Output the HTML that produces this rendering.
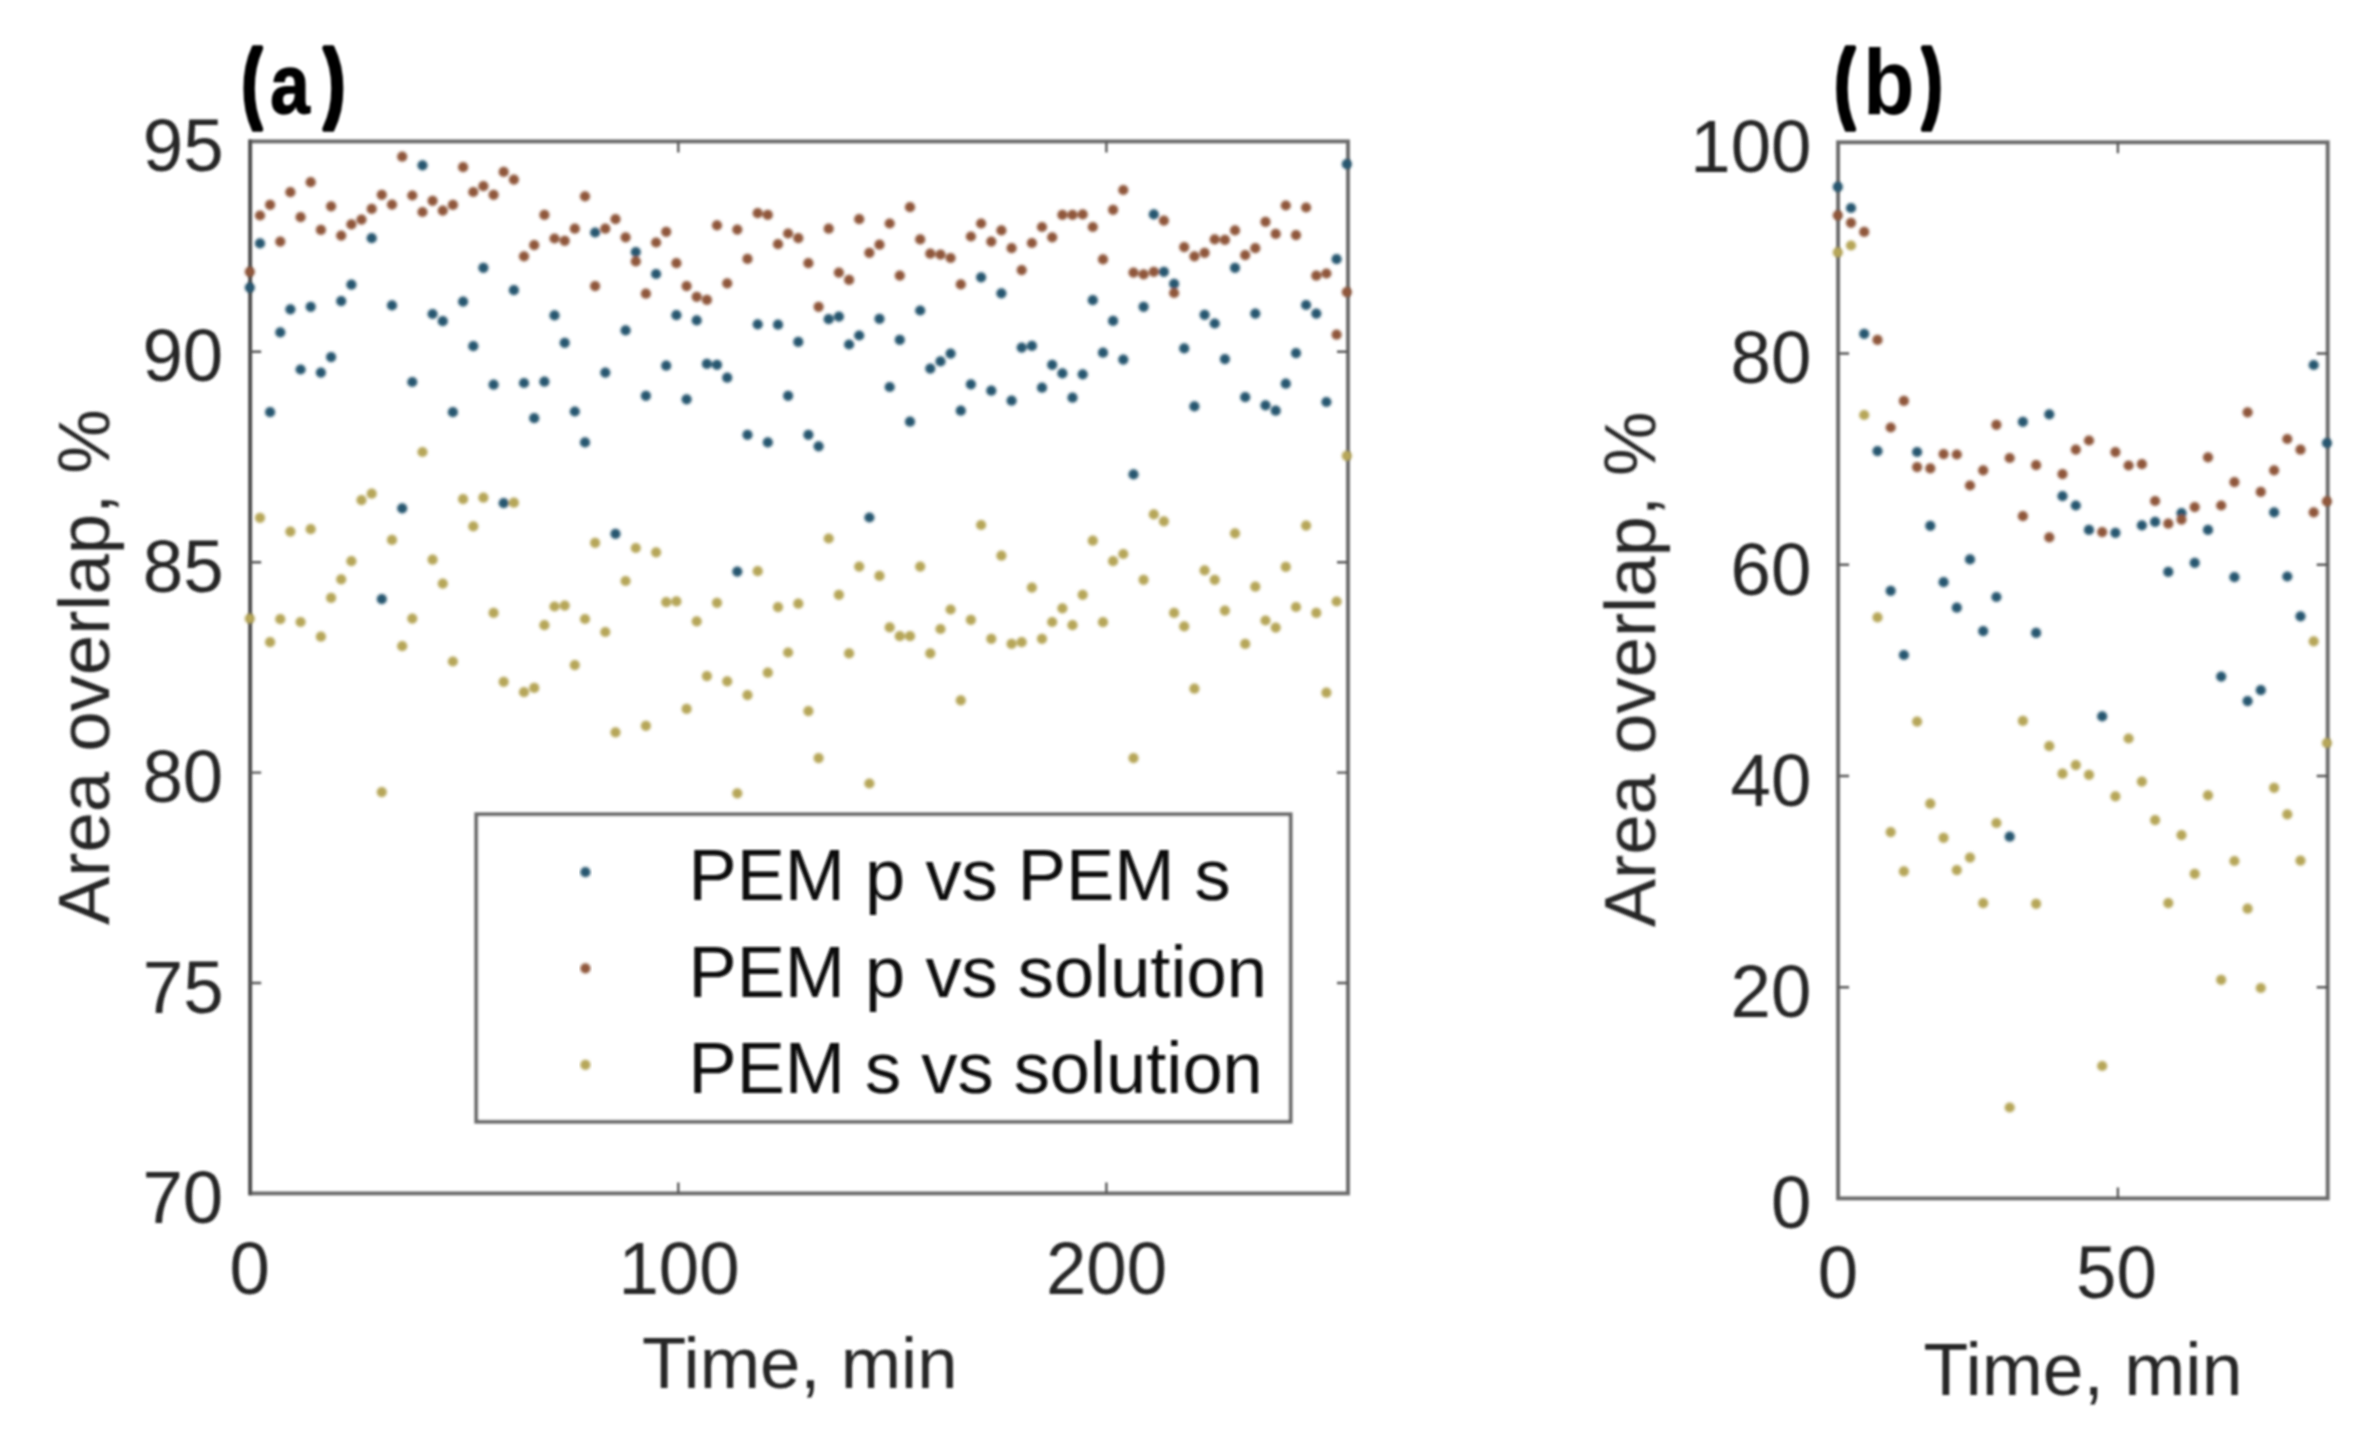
<!DOCTYPE html>
<html><head><meta charset="utf-8"><title>Area overlap</title>
<style>html,body{margin:0;padding:0;background:#fff}svg{display:block}text{font-family:"Liberation Sans",sans-serif}</style></head><body>
<svg width="2362" height="1451" viewBox="0 0 2362 1451">
<defs><filter id="bl" x="-5%" y="-5%" width="110%" height="110%"><feGaussianBlur stdDeviation="0.9"/></filter><filter id="bd" x="-5%" y="-5%" width="110%" height="110%"><feGaussianBlur stdDeviation="1.5"/></filter></defs>
<rect width="2362" height="1451" fill="#fff"/>
<g filter="url(#bl)">
<rect x="250.2" y="141.4" width="1097.8" height="1052.0" fill="none" stroke="#6c6c6c" stroke-width="3.9"/>
<path d="M250.2 139.45000000000002V1195.3500000000001" stroke="#4c4c4c" stroke-width="3.4" fill="none"/>
<path d="M678.3 1193.4v-11M678.3 141.4v11M1106.4 1193.4v-11M1106.4 141.4v11M250.2 983.0h11M1348.0 983.0h-11M250.2 772.6h11M1348.0 772.6h-11M250.2 562.2h11M1348.0 562.2h-11M250.2 351.8h11M1348.0 351.8h-11" stroke="#585858" stroke-width="2.4" fill="none"/>
<rect x="1838.1" y="142.3" width="489.6" height="1056.1" fill="none" stroke="#6c6c6c" stroke-width="3.9"/>
<path d="M2117.9 1198.4v-11M2117.9 142.3v11M1838.1 987.2h11M2327.7 987.2h-11M1838.1 776.0h11M2327.7 776.0h-11M1838.1 564.7h11M2327.7 564.7h-11M1838.1 353.5h11M2327.7 353.5h-11" stroke="#585858" stroke-width="2.4" fill="none"/>
</g>
<g filter="url(#bd)">
<g fill="#26566f">
<circle cx="249.8" cy="287.6" r="5.1"/><circle cx="260.0" cy="243.4" r="5.1"/><circle cx="270.1" cy="412.2" r="5.1"/><circle cx="280.3" cy="332.4" r="5.1"/><circle cx="290.4" cy="309.3" r="5.1"/><circle cx="300.6" cy="369.5" r="5.1"/><circle cx="310.7" cy="306.8" r="5.1"/><circle cx="320.9" cy="372.6" r="5.1"/><circle cx="331.1" cy="357.1" r="5.1"/><circle cx="341.2" cy="301.1" r="5.1"/><circle cx="351.4" cy="284.7" r="5.1"/><circle cx="371.7" cy="238.2" r="5.1"/><circle cx="381.8" cy="599.1" r="5.1"/><circle cx="392.0" cy="305.4" r="5.1"/><circle cx="402.2" cy="508.3" r="5.1"/><circle cx="412.3" cy="382.0" r="5.1"/><circle cx="422.5" cy="165.3" r="5.1"/><circle cx="432.6" cy="314.0" r="5.1"/><circle cx="442.8" cy="321.2" r="5.1"/><circle cx="452.9" cy="412.2" r="5.1"/><circle cx="463.1" cy="301.6" r="5.1"/><circle cx="473.3" cy="346.2" r="5.1"/><circle cx="483.4" cy="267.8" r="5.1"/><circle cx="493.6" cy="384.7" r="5.1"/><circle cx="503.7" cy="503.2" r="5.1"/><circle cx="513.9" cy="290.2" r="5.1"/><circle cx="524.0" cy="383.0" r="5.1"/><circle cx="534.2" cy="418.2" r="5.1"/><circle cx="544.4" cy="381.7" r="5.1"/><circle cx="554.5" cy="315.4" r="5.1"/><circle cx="564.7" cy="342.8" r="5.1"/><circle cx="574.8" cy="411.5" r="5.1"/><circle cx="585.0" cy="442.4" r="5.1"/><circle cx="595.1" cy="232.5" r="5.1"/><circle cx="605.3" cy="372.6" r="5.1"/><circle cx="615.5" cy="533.8" r="5.1"/><circle cx="625.6" cy="330.4" r="5.1"/><circle cx="635.8" cy="252.0" r="5.1"/><circle cx="645.9" cy="395.8" r="5.1"/><circle cx="656.1" cy="274.0" r="5.1"/><circle cx="666.2" cy="365.7" r="5.1"/><circle cx="676.4" cy="315.2" r="5.1"/><circle cx="686.6" cy="399.3" r="5.1"/><circle cx="696.7" cy="320.4" r="5.1"/><circle cx="706.9" cy="363.9" r="5.1"/><circle cx="717.0" cy="364.8" r="5.1"/><circle cx="727.2" cy="377.7" r="5.1"/><circle cx="737.3" cy="571.6" r="5.1"/><circle cx="747.5" cy="434.8" r="5.1"/><circle cx="757.7" cy="324.3" r="5.1"/><circle cx="767.8" cy="442.4" r="5.1"/><circle cx="778.0" cy="324.7" r="5.1"/><circle cx="788.1" cy="395.8" r="5.1"/><circle cx="798.3" cy="341.9" r="5.1"/><circle cx="808.4" cy="434.8" r="5.1"/><circle cx="818.6" cy="446.3" r="5.1"/><circle cx="828.7" cy="319.2" r="5.1"/><circle cx="838.9" cy="316.6" r="5.1"/><circle cx="849.1" cy="344.5" r="5.1"/><circle cx="859.2" cy="335.5" r="5.1"/><circle cx="869.4" cy="517.5" r="5.1"/><circle cx="879.5" cy="318.8" r="5.1"/><circle cx="889.7" cy="387.0" r="5.1"/><circle cx="899.8" cy="339.8" r="5.1"/><circle cx="910.0" cy="421.7" r="5.1"/><circle cx="920.2" cy="310.5" r="5.1"/><circle cx="930.3" cy="368.6" r="5.1"/><circle cx="940.5" cy="361.4" r="5.1"/><circle cx="950.6" cy="353.6" r="5.1"/><circle cx="960.8" cy="410.7" r="5.1"/><circle cx="970.9" cy="384.3" r="5.1"/><circle cx="981.1" cy="277.3" r="5.1"/><circle cx="991.3" cy="390.7" r="5.1"/><circle cx="1001.4" cy="293.3" r="5.1"/><circle cx="1011.6" cy="400.7" r="5.1"/><circle cx="1021.7" cy="347.6" r="5.1"/><circle cx="1031.9" cy="345.9" r="5.1"/><circle cx="1042.0" cy="387.7" r="5.1"/><circle cx="1052.2" cy="364.8" r="5.1"/><circle cx="1062.4" cy="373.4" r="5.1"/><circle cx="1072.5" cy="397.7" r="5.1"/><circle cx="1082.7" cy="374.3" r="5.1"/><circle cx="1092.8" cy="300.2" r="5.1"/><circle cx="1103.0" cy="352.7" r="5.1"/><circle cx="1113.1" cy="320.9" r="5.1"/><circle cx="1123.3" cy="359.6" r="5.1"/><circle cx="1133.5" cy="474.4" r="5.1"/><circle cx="1143.6" cy="306.8" r="5.1"/><circle cx="1153.8" cy="214.4" r="5.1"/><circle cx="1163.9" cy="271.8" r="5.1"/><circle cx="1174.1" cy="283.8" r="5.1"/><circle cx="1184.2" cy="348.4" r="5.1"/><circle cx="1194.4" cy="406.4" r="5.1"/><circle cx="1204.6" cy="314.8" r="5.1"/><circle cx="1214.7" cy="323.5" r="5.1"/><circle cx="1224.9" cy="359.1" r="5.1"/><circle cx="1235.0" cy="267.8" r="5.1"/><circle cx="1245.2" cy="397.2" r="5.1"/><circle cx="1255.3" cy="313.6" r="5.1"/><circle cx="1265.5" cy="405.3" r="5.1"/><circle cx="1275.7" cy="410.7" r="5.1"/><circle cx="1285.8" cy="383.7" r="5.1"/><circle cx="1296.0" cy="353.1" r="5.1"/><circle cx="1306.1" cy="305.0" r="5.1"/><circle cx="1316.3" cy="313.6" r="5.1"/><circle cx="1326.4" cy="402.0" r="5.1"/><circle cx="1336.6" cy="259.2" r="5.1"/><circle cx="1346.8" cy="164.1" r="5.1"/>
</g>
<g fill="#8f573b">
<circle cx="249.8" cy="271.8" r="5.1"/><circle cx="260.0" cy="215.5" r="5.1"/><circle cx="270.1" cy="204.8" r="5.1"/><circle cx="280.3" cy="241.6" r="5.1"/><circle cx="290.4" cy="192.2" r="5.1"/><circle cx="300.6" cy="217.2" r="5.1"/><circle cx="310.7" cy="182.2" r="5.1"/><circle cx="320.9" cy="229.9" r="5.1"/><circle cx="331.1" cy="206.3" r="5.1"/><circle cx="341.2" cy="235.6" r="5.1"/><circle cx="351.4" cy="224.4" r="5.1"/><circle cx="361.5" cy="219.6" r="5.1"/><circle cx="371.7" cy="208.9" r="5.1"/><circle cx="381.8" cy="194.8" r="5.1"/><circle cx="392.0" cy="204.6" r="5.1"/><circle cx="402.2" cy="156.7" r="5.1"/><circle cx="412.3" cy="195.5" r="5.1"/><circle cx="422.5" cy="212.0" r="5.1"/><circle cx="432.6" cy="200.8" r="5.1"/><circle cx="442.8" cy="210.6" r="5.1"/><circle cx="452.9" cy="204.9" r="5.1"/><circle cx="463.1" cy="167.2" r="5.1"/><circle cx="473.3" cy="192.0" r="5.1"/><circle cx="483.4" cy="186.2" r="5.1"/><circle cx="493.6" cy="194.8" r="5.1"/><circle cx="503.7" cy="171.9" r="5.1"/><circle cx="513.9" cy="179.6" r="5.1"/><circle cx="524.0" cy="256.3" r="5.1"/><circle cx="534.2" cy="245.1" r="5.1"/><circle cx="544.4" cy="214.9" r="5.1"/><circle cx="554.5" cy="238.5" r="5.1"/><circle cx="564.7" cy="240.8" r="5.1"/><circle cx="574.8" cy="228.7" r="5.1"/><circle cx="585.0" cy="196.3" r="5.1"/><circle cx="595.1" cy="286.1" r="5.1"/><circle cx="605.3" cy="228.7" r="5.1"/><circle cx="615.5" cy="219.2" r="5.1"/><circle cx="625.6" cy="237.3" r="5.1"/><circle cx="635.8" cy="261.4" r="5.1"/><circle cx="645.9" cy="293.7" r="5.1"/><circle cx="656.1" cy="242.5" r="5.1"/><circle cx="666.2" cy="231.8" r="5.1"/><circle cx="676.4" cy="263.2" r="5.1"/><circle cx="686.6" cy="286.1" r="5.1"/><circle cx="696.7" cy="296.8" r="5.1"/><circle cx="706.9" cy="299.9" r="5.1"/><circle cx="717.0" cy="225.3" r="5.1"/><circle cx="727.2" cy="283.3" r="5.1"/><circle cx="737.3" cy="229.6" r="5.1"/><circle cx="747.5" cy="258.9" r="5.1"/><circle cx="757.7" cy="213.2" r="5.1"/><circle cx="767.8" cy="214.9" r="5.1"/><circle cx="778.0" cy="244.2" r="5.1"/><circle cx="788.1" cy="233.5" r="5.1"/><circle cx="798.3" cy="238.2" r="5.1"/><circle cx="808.4" cy="263.2" r="5.1"/><circle cx="818.6" cy="306.8" r="5.1"/><circle cx="828.7" cy="228.7" r="5.1"/><circle cx="838.9" cy="272.6" r="5.1"/><circle cx="849.1" cy="279.9" r="5.1"/><circle cx="859.2" cy="219.2" r="5.1"/><circle cx="869.4" cy="252.8" r="5.1"/><circle cx="879.5" cy="244.7" r="5.1"/><circle cx="889.7" cy="223.5" r="5.1"/><circle cx="899.8" cy="275.6" r="5.1"/><circle cx="910.0" cy="207.2" r="5.1"/><circle cx="920.2" cy="239.4" r="5.1"/><circle cx="930.3" cy="253.7" r="5.1"/><circle cx="940.5" cy="254.6" r="5.1"/><circle cx="950.6" cy="258.0" r="5.1"/><circle cx="960.8" cy="284.4" r="5.1"/><circle cx="970.9" cy="236.5" r="5.1"/><circle cx="981.1" cy="223.5" r="5.1"/><circle cx="991.3" cy="241.6" r="5.1"/><circle cx="1001.4" cy="230.4" r="5.1"/><circle cx="1011.6" cy="248.2" r="5.1"/><circle cx="1021.7" cy="270.1" r="5.1"/><circle cx="1031.9" cy="243.0" r="5.1"/><circle cx="1042.0" cy="227.0" r="5.1"/><circle cx="1052.2" cy="237.3" r="5.1"/><circle cx="1062.4" cy="214.9" r="5.1"/><circle cx="1072.5" cy="214.9" r="5.1"/><circle cx="1082.7" cy="214.4" r="5.1"/><circle cx="1092.8" cy="227.0" r="5.1"/><circle cx="1103.0" cy="259.4" r="5.1"/><circle cx="1113.1" cy="209.8" r="5.1"/><circle cx="1123.3" cy="190.0" r="5.1"/><circle cx="1133.5" cy="272.6" r="5.1"/><circle cx="1143.6" cy="274.4" r="5.1"/><circle cx="1153.8" cy="271.8" r="5.1"/><circle cx="1163.9" cy="220.6" r="5.1"/><circle cx="1174.1" cy="293.0" r="5.1"/><circle cx="1184.2" cy="247.1" r="5.1"/><circle cx="1194.4" cy="256.3" r="5.1"/><circle cx="1204.6" cy="252.8" r="5.1"/><circle cx="1214.7" cy="239.4" r="5.1"/><circle cx="1224.9" cy="239.9" r="5.1"/><circle cx="1235.0" cy="230.4" r="5.1"/><circle cx="1245.2" cy="255.1" r="5.1"/><circle cx="1255.3" cy="248.2" r="5.1"/><circle cx="1265.5" cy="221.8" r="5.1"/><circle cx="1275.7" cy="233.9" r="5.1"/><circle cx="1285.8" cy="205.5" r="5.1"/><circle cx="1296.0" cy="235.1" r="5.1"/><circle cx="1306.1" cy="207.5" r="5.1"/><circle cx="1316.3" cy="275.7" r="5.1"/><circle cx="1326.4" cy="273.5" r="5.1"/><circle cx="1336.6" cy="334.7" r="5.1"/><circle cx="1346.8" cy="292.1" r="5.1"/>
</g>
<g fill="#b6a658">
<circle cx="249.8" cy="618.6" r="5.1"/><circle cx="260.0" cy="517.8" r="5.1"/><circle cx="270.1" cy="642.2" r="5.1"/><circle cx="280.3" cy="619.2" r="5.1"/><circle cx="290.4" cy="531.6" r="5.1"/><circle cx="300.6" cy="622.0" r="5.1"/><circle cx="310.7" cy="529.2" r="5.1"/><circle cx="320.9" cy="636.7" r="5.1"/><circle cx="331.1" cy="597.9" r="5.1"/><circle cx="341.2" cy="579.3" r="5.1"/><circle cx="351.4" cy="561.2" r="5.1"/><circle cx="361.5" cy="500.1" r="5.1"/><circle cx="371.7" cy="493.7" r="5.1"/><circle cx="381.8" cy="792.1" r="5.1"/><circle cx="392.0" cy="539.9" r="5.1"/><circle cx="402.2" cy="646.2" r="5.1"/><circle cx="412.3" cy="618.6" r="5.1"/><circle cx="422.5" cy="452.0" r="5.1"/><circle cx="432.6" cy="559.7" r="5.1"/><circle cx="442.8" cy="583.6" r="5.1"/><circle cx="452.9" cy="661.5" r="5.1"/><circle cx="463.1" cy="499.2" r="5.1"/><circle cx="473.3" cy="526.4" r="5.1"/><circle cx="483.4" cy="497.7" r="5.1"/><circle cx="493.6" cy="612.9" r="5.1"/><circle cx="503.7" cy="681.8" r="5.1"/><circle cx="513.9" cy="502.7" r="5.1"/><circle cx="524.0" cy="692.2" r="5.1"/><circle cx="534.2" cy="687.9" r="5.1"/><circle cx="544.4" cy="625.2" r="5.1"/><circle cx="554.5" cy="606.5" r="5.1"/><circle cx="564.7" cy="605.6" r="5.1"/><circle cx="574.8" cy="665.1" r="5.1"/><circle cx="585.0" cy="619.0" r="5.1"/><circle cx="595.1" cy="542.8" r="5.1"/><circle cx="605.3" cy="632.0" r="5.1"/><circle cx="615.5" cy="732.3" r="5.1"/><circle cx="625.6" cy="581.0" r="5.1"/><circle cx="635.8" cy="548.0" r="5.1"/><circle cx="645.9" cy="725.8" r="5.1"/><circle cx="656.1" cy="552.3" r="5.1"/><circle cx="666.2" cy="602.2" r="5.1"/><circle cx="676.4" cy="601.4" r="5.1"/><circle cx="686.6" cy="708.9" r="5.1"/><circle cx="696.7" cy="621.3" r="5.1"/><circle cx="706.9" cy="676.1" r="5.1"/><circle cx="717.0" cy="602.8" r="5.1"/><circle cx="727.2" cy="681.3" r="5.1"/><circle cx="737.3" cy="793.3" r="5.1"/><circle cx="747.5" cy="695.1" r="5.1"/><circle cx="757.7" cy="571.2" r="5.1"/><circle cx="767.8" cy="672.7" r="5.1"/><circle cx="778.0" cy="607.1" r="5.1"/><circle cx="788.1" cy="652.5" r="5.1"/><circle cx="798.3" cy="603.7" r="5.1"/><circle cx="808.4" cy="711.1" r="5.1"/><circle cx="818.6" cy="758.1" r="5.1"/><circle cx="828.7" cy="538.5" r="5.1"/><circle cx="838.9" cy="594.8" r="5.1"/><circle cx="849.1" cy="653.4" r="5.1"/><circle cx="859.2" cy="566.6" r="5.1"/><circle cx="869.4" cy="783.5" r="5.1"/><circle cx="879.5" cy="575.9" r="5.1"/><circle cx="889.7" cy="627.4" r="5.1"/><circle cx="899.8" cy="636.2" r="5.1"/><circle cx="910.0" cy="636.2" r="5.1"/><circle cx="920.2" cy="566.6" r="5.1"/><circle cx="930.3" cy="653.4" r="5.1"/><circle cx="940.5" cy="629.0" r="5.1"/><circle cx="950.6" cy="609.5" r="5.1"/><circle cx="960.8" cy="700.3" r="5.1"/><circle cx="970.9" cy="619.8" r="5.1"/><circle cx="981.1" cy="525.0" r="5.1"/><circle cx="991.3" cy="638.8" r="5.1"/><circle cx="1001.4" cy="555.7" r="5.1"/><circle cx="1011.6" cy="643.9" r="5.1"/><circle cx="1021.7" cy="642.2" r="5.1"/><circle cx="1031.9" cy="587.6" r="5.1"/><circle cx="1042.0" cy="638.8" r="5.1"/><circle cx="1052.2" cy="622.0" r="5.1"/><circle cx="1062.4" cy="608.3" r="5.1"/><circle cx="1072.5" cy="625.2" r="5.1"/><circle cx="1082.7" cy="594.8" r="5.1"/><circle cx="1092.8" cy="540.7" r="5.1"/><circle cx="1103.0" cy="622.2" r="5.1"/><circle cx="1113.1" cy="561.2" r="5.1"/><circle cx="1123.3" cy="554.0" r="5.1"/><circle cx="1133.5" cy="758.1" r="5.1"/><circle cx="1143.6" cy="579.8" r="5.1"/><circle cx="1153.8" cy="514.4" r="5.1"/><circle cx="1163.9" cy="521.3" r="5.1"/><circle cx="1174.1" cy="612.9" r="5.1"/><circle cx="1184.2" cy="626.4" r="5.1"/><circle cx="1194.4" cy="688.7" r="5.1"/><circle cx="1204.6" cy="570.4" r="5.1"/><circle cx="1214.7" cy="579.8" r="5.1"/><circle cx="1224.9" cy="610.6" r="5.1"/><circle cx="1235.0" cy="533.3" r="5.1"/><circle cx="1245.2" cy="643.9" r="5.1"/><circle cx="1255.3" cy="586.7" r="5.1"/><circle cx="1265.5" cy="620.5" r="5.1"/><circle cx="1275.7" cy="627.6" r="5.1"/><circle cx="1285.8" cy="566.9" r="5.1"/><circle cx="1296.0" cy="607.0" r="5.1"/><circle cx="1306.1" cy="525.6" r="5.1"/><circle cx="1316.3" cy="612.9" r="5.1"/><circle cx="1326.4" cy="692.7" r="5.1"/><circle cx="1336.6" cy="601.5" r="5.1"/><circle cx="1346.8" cy="455.8" r="5.1"/>
</g>
<g fill="#26566f">
<circle cx="1837.8" cy="186.9" r="5.1"/><circle cx="1851.0" cy="208.0" r="5.1"/><circle cx="1864.2" cy="333.8" r="5.1"/><circle cx="1877.5" cy="451.1" r="5.1"/><circle cx="1890.7" cy="590.8" r="5.1"/><circle cx="1903.9" cy="655.0" r="5.1"/><circle cx="1917.1" cy="452.0" r="5.1"/><circle cx="1930.3" cy="525.8" r="5.1"/><circle cx="1943.6" cy="582.2" r="5.1"/><circle cx="1956.8" cy="607.7" r="5.1"/><circle cx="1970.0" cy="559.4" r="5.1"/><circle cx="1983.2" cy="631.1" r="5.1"/><circle cx="1996.4" cy="597.0" r="5.1"/><circle cx="2009.7" cy="836.7" r="5.1"/><circle cx="2022.9" cy="421.8" r="5.1"/><circle cx="2036.1" cy="632.9" r="5.1"/><circle cx="2049.3" cy="414.3" r="5.1"/><circle cx="2062.5" cy="496.2" r="5.1"/><circle cx="2075.8" cy="505.5" r="5.1"/><circle cx="2089.0" cy="529.9" r="5.1"/><circle cx="2102.2" cy="716.4" r="5.1"/><circle cx="2115.4" cy="532.8" r="5.1"/><circle cx="2141.9" cy="525.3" r="5.1"/><circle cx="2155.1" cy="521.9" r="5.1"/><circle cx="2168.3" cy="571.9" r="5.1"/><circle cx="2181.5" cy="513.2" r="5.1"/><circle cx="2194.7" cy="562.8" r="5.1"/><circle cx="2208.0" cy="529.9" r="5.1"/><circle cx="2221.2" cy="676.6" r="5.1"/><circle cx="2234.4" cy="577.2" r="5.1"/><circle cx="2247.6" cy="701.1" r="5.1"/><circle cx="2260.8" cy="690.2" r="5.1"/><circle cx="2274.1" cy="512.3" r="5.1"/><circle cx="2287.3" cy="576.5" r="5.1"/><circle cx="2300.5" cy="616.3" r="5.1"/><circle cx="2313.7" cy="365.0" r="5.1"/><circle cx="2326.9" cy="443.0" r="5.1"/>
</g>
<g fill="#8f573b">
<circle cx="1837.8" cy="215.3" r="5.1"/><circle cx="1851.0" cy="222.8" r="5.1"/><circle cx="1864.2" cy="231.9" r="5.1"/><circle cx="1877.5" cy="339.9" r="5.1"/><circle cx="1890.7" cy="427.5" r="5.1"/><circle cx="1903.9" cy="400.9" r="5.1"/><circle cx="1917.1" cy="467.1" r="5.1"/><circle cx="1930.3" cy="468.4" r="5.1"/><circle cx="1943.6" cy="454.1" r="5.1"/><circle cx="1956.8" cy="454.5" r="5.1"/><circle cx="1970.0" cy="485.5" r="5.1"/><circle cx="1983.2" cy="470.3" r="5.1"/><circle cx="1996.4" cy="424.8" r="5.1"/><circle cx="2009.7" cy="458.0" r="5.1"/><circle cx="2022.9" cy="516.2" r="5.1"/><circle cx="2036.1" cy="465.2" r="5.1"/><circle cx="2049.3" cy="537.4" r="5.1"/><circle cx="2062.5" cy="474.1" r="5.1"/><circle cx="2075.8" cy="449.6" r="5.1"/><circle cx="2089.0" cy="440.5" r="5.1"/><circle cx="2102.2" cy="532.1" r="5.1"/><circle cx="2115.4" cy="452.1" r="5.1"/><circle cx="2128.6" cy="465.5" r="5.1"/><circle cx="2141.9" cy="464.2" r="5.1"/><circle cx="2155.1" cy="501.0" r="5.1"/><circle cx="2168.3" cy="523.7" r="5.1"/><circle cx="2181.5" cy="519.6" r="5.1"/><circle cx="2194.7" cy="507.1" r="5.1"/><circle cx="2208.0" cy="457.3" r="5.1"/><circle cx="2221.2" cy="505.5" r="5.1"/><circle cx="2234.4" cy="482.1" r="5.1"/><circle cx="2247.6" cy="412.3" r="5.1"/><circle cx="2260.8" cy="491.9" r="5.1"/><circle cx="2274.1" cy="470.3" r="5.1"/><circle cx="2287.3" cy="439.0" r="5.1"/><circle cx="2300.5" cy="449.7" r="5.1"/><circle cx="2313.7" cy="512.3" r="5.1"/><circle cx="2326.9" cy="501.4" r="5.1"/>
</g>
<g fill="#b6a658">
<circle cx="1837.8" cy="252.4" r="5.1"/><circle cx="1851.0" cy="245.5" r="5.1"/><circle cx="1864.2" cy="415.0" r="5.1"/><circle cx="1877.5" cy="617.4" r="5.1"/><circle cx="1890.7" cy="832.1" r="5.1"/><circle cx="1903.9" cy="871.3" r="5.1"/><circle cx="1917.1" cy="721.6" r="5.1"/><circle cx="1930.3" cy="803.7" r="5.1"/><circle cx="1943.6" cy="837.8" r="5.1"/><circle cx="1956.8" cy="870.1" r="5.1"/><circle cx="1970.0" cy="857.6" r="5.1"/><circle cx="1983.2" cy="903.1" r="5.1"/><circle cx="1996.4" cy="823.0" r="5.1"/><circle cx="2009.7" cy="1107.5" r="5.1"/><circle cx="2022.9" cy="720.9" r="5.1"/><circle cx="2036.1" cy="903.8" r="5.1"/><circle cx="2049.3" cy="746.2" r="5.1"/><circle cx="2062.5" cy="773.7" r="5.1"/><circle cx="2075.8" cy="765.1" r="5.1"/><circle cx="2089.0" cy="774.8" r="5.1"/><circle cx="2102.2" cy="1066.0" r="5.1"/><circle cx="2115.4" cy="796.4" r="5.1"/><circle cx="2128.6" cy="738.5" r="5.1"/><circle cx="2141.9" cy="781.6" r="5.1"/><circle cx="2155.1" cy="820.1" r="5.1"/><circle cx="2168.3" cy="903.1" r="5.1"/><circle cx="2181.5" cy="835.1" r="5.1"/><circle cx="2194.7" cy="873.8" r="5.1"/><circle cx="2208.0" cy="795.3" r="5.1"/><circle cx="2221.2" cy="979.8" r="5.1"/><circle cx="2234.4" cy="861.0" r="5.1"/><circle cx="2247.6" cy="908.7" r="5.1"/><circle cx="2260.8" cy="988.0" r="5.1"/><circle cx="2274.1" cy="787.8" r="5.1"/><circle cx="2287.3" cy="814.4" r="5.1"/><circle cx="2300.5" cy="860.6" r="5.1"/><circle cx="2313.7" cy="641.3" r="5.1"/><circle cx="2326.9" cy="743.0" r="5.1"/>
</g>
</g>
<g filter="url(#bl)" fill="#262626">
<text transform="translate(142.41 1223.00) scale(0.9750 1.0000)" font-size="74.5">70</text>
<text transform="translate(142.78 1012.60) scale(0.9750 1.0000)" font-size="74.5">75</text>
<text transform="translate(142.41 802.20) scale(0.9750 1.0000)" font-size="74.5">80</text>
<text transform="translate(142.78 591.80) scale(0.9750 1.0000)" font-size="74.5">85</text>
<text transform="translate(142.41 381.40) scale(0.9750 1.0000)" font-size="74.5">90</text>
<text transform="translate(142.78 171.00) scale(0.9750 1.0000)" font-size="74.5">95</text>
<text transform="translate(229.56 1294.00) scale(0.9750 1.0000)" font-size="74.5">0</text>
<text transform="translate(618.38 1294.00) scale(0.9750 1.0000)" font-size="74.5">100</text>
<text transform="translate(1045.98 1294.00) scale(0.9750 1.0000)" font-size="74.5">200</text>
<text transform="translate(1770.93 1228.20) scale(0.9750 1.0000)" font-size="74.5">0</text>
<text transform="translate(1730.61 1016.98) scale(0.9750 1.0000)" font-size="74.5">20</text>
<text transform="translate(1730.61 805.76) scale(0.9750 1.0000)" font-size="74.5">40</text>
<text transform="translate(1730.61 594.54) scale(0.9750 1.0000)" font-size="74.5">60</text>
<text transform="translate(1730.61 383.32) scale(0.9750 1.0000)" font-size="74.5">80</text>
<text transform="translate(1690.30 172.10) scale(0.9750 1.0000)" font-size="74.5">100</text>
<text transform="translate(1817.76 1297.50) scale(0.9750 1.0000)" font-size="74.5">0</text>
<text transform="translate(2076.00 1297.50) scale(0.9750 1.0000)" font-size="74.5">50</text>
<text transform="translate(641.94 1387.70) scale(1.0000 1.0000)" font-size="72.5">Time, min</text>
<text transform="translate(1923.42 1394.60) scale(1.0000 1.0000)" font-size="73.3">Time, min</text>
<text transform="translate(109.10 924.95) rotate(-90) scale(1.0000 1.0000)" font-size="72.5">Area overlap, %</text>
<text transform="translate(1655.20 927.25) rotate(-90) scale(1.0000 1.0000)" font-size="72.5">Area overlap, %</text>
</g>
<g filter="url(#bl)" fill="#000" font-weight="bold">
<text transform="scale(0.6282 0.9584)"><tspan x="385.95" y="116.04" font-size="90.00" stroke="#000" stroke-width="6.00" stroke-linejoin="round">(</tspan><tspan x="430.28" y="118.35" font-size="86.74" textLength="62.78" lengthAdjust="spacingAndGlyphs" stroke="#000" stroke-width="1.54" stroke-linejoin="round">a</tspan><tspan x="516.25" y="116.04" font-size="90.00" textLength="31.96" lengthAdjust="spacingAndGlyphs" stroke="#000" stroke-width="6.00" stroke-linejoin="round">)</tspan></text>
<text transform="scale(0.6346 0.9584)"><tspan x="2892.06" y="116.04" font-size="90.00" stroke="#000" stroke-width="6.00" stroke-linejoin="round">(</tspan><tspan x="2935.66" y="119.44" font-size="96.82" textLength="81.20" lengthAdjust="spacingAndGlyphs">b</tspan><tspan x="3030.00" y="116.04" font-size="90.00" textLength="29.70" lengthAdjust="spacingAndGlyphs" stroke="#000" stroke-width="6.00" stroke-linejoin="round">)</tspan></text>
</g>
<g filter="url(#bl)">
<rect x="476.3" y="814.3" width="814.3" height="307.4" fill="#fff" stroke="#6c6c6c" stroke-width="3.9"/>
</g>
<g filter="url(#bd)">
<circle cx="585.4" cy="872.2" r="5.1" fill="#26566f"/>
<circle cx="585.4" cy="968.3" r="5.1" fill="#8f573b"/>
<circle cx="585.4" cy="1064.8" r="5.1" fill="#b6a658"/>
</g>
<g filter="url(#bl)" fill="#0c0c0c">
<text transform="translate(688.42 900.30) scale(0.9930 1.0000)" font-size="72.8">PEM p vs PEM s</text>
<text transform="translate(688.42 996.80) scale(0.9930 1.0000)" font-size="72.8">PEM p vs solution</text>
<text transform="translate(688.42 1093.00) scale(0.9930 1.0000)" font-size="72.8">PEM s vs solution</text>
</g>
</svg></body></html>
